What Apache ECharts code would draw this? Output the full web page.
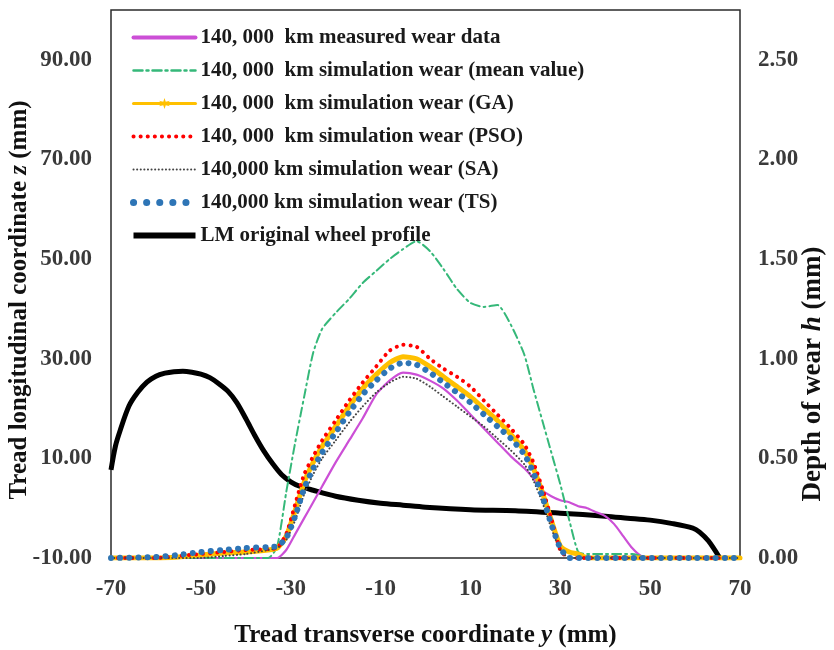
<!DOCTYPE html>
<html>
<head>
<meta charset="utf-8">
<script src="https://cdn.jsdelivr.net/npm/echarts@6/dist/echarts.min.js"></script>
<style>
html,body{margin:0;padding:0;background:#fff;}
#main{width:834px;height:650px;}
</style>
</head>
<body>
<div id="main"></div>
<script>
// transverse coordinate y (mm) for the wear curves
const yWear = [-70,-60,-55,-50,-45,-40,-35,-33,-31,-29,-27,-25,-23,-20,-17,-14,-11,-8,-5,-2,
  1,4,7,10,13,16,19,22,24,26,28,30,32,34,36,38,40,42,44,46,48,50,60,70];
// wear depth h (mm), right axis
const measured = [0,0,0,0,0,0,0,0,0.04,0.12,0.20,0.28,0.36,0.48,0.59,0.70,0.82,0.89,0.93,0.92,
  0.89,0.85,0.79,0.72,0.65,0.58,0.51,0.45,0.40,0.34,0.31,0.29,0.28,0.26,0.25,0.23,0.21,0.17,0.11,0.05,0.01,0,0,0];
const meanSim = [0,0,0,0,0,0,0,0.06,0.33,0.58,0.81,1.03,1.15,1.23,1.30,1.38,1.44,1.50,1.55,1.59,
  1.54,1.45,1.35,1.28,1.26,1.27,1.17,1.02,0.85,0.69,0.53,0.37,0.19,0.03,0.02,0.02,0.02,0.02,0.02,0.02,0.01,0,0,0];
const gaSim = [0,0,0.005,0.015,0.025,0.03,0.04,0.05,0.11,0.24,0.38,0.48,0.56,0.66,0.76,0.85,0.92,0.98,1.01,1.00,
  0.96,0.91,0.86,0.81,0.75,0.69,0.62,0.54,0.45,0.33,0.19,0.06,0.03,0.02,0,0,0,0,0,0,0,0,0,0];
const psoSim = [0,0,0.01,0.02,0.03,0.04,0.045,0.05,0.12,0.27,0.42,0.51,0.59,0.69,0.79,0.88,0.96,1.04,1.07,1.06,
  1.00,0.95,0.91,0.86,0.79,0.72,0.65,0.57,0.48,0.35,0.20,0.04,0,0,0,0,0,0,0,0,0,0,0,0];
const saSim = [0,0,0,0,0.01,0.02,0.04,0.05,0.09,0.19,0.32,0.42,0.50,0.59,0.68,0.76,0.83,0.88,0.91,0.90,
  0.86,0.81,0.76,0.71,0.66,0.60,0.54,0.47,0.39,0.28,0.15,0.04,0,0,0,0,0,0,0,0,0,0,0,0];
const tsSim = [0,0.005,0.015,0.03,0.04,0.05,0.055,0.06,0.10,0.21,0.35,0.45,0.53,0.63,0.73,0.82,0.89,0.95,0.98,0.97,
  0.93,0.88,0.83,0.78,0.72,0.66,0.60,0.52,0.43,0.31,0.17,0.05,0,0,0,0,0,0,0,0,0,0,0,0];

// LM original wheel profile, z (mm) on left axis
const yProfile = [-70,-69,-68,-66,-64,-62,-60,-58,-56,-54,-52,-50,-48,-46,-44,-42,-40,-38,-36,-34,-32,-30,-28,
  -25,-20,-15,-10,-5,0,10,20,30,40,45,50,55,59.5,61,63,65.5];
const zProfile = [7.7,12.5,15.5,20.5,23.3,25.3,26.5,27.1,27.4,27.5,27.3,26.9,26.2,25.0,23.5,21.2,18.0,14.6,11.5,8.9,6.7,5.3,4.4,
  3.6,2.4,1.6,1.0,0.6,0.2,-0.3,-0.5,-1.0,-1.6,-2.0,-2.4,-3.1,-4.0,-4.8,-6.6,-10];

const xTicks = [-70,-50,-30,-10,10,30,50,70];
const zTicks = [-10,10,30,50,70,90];
const hTicks = [0,0.5,1,1.5,2,2.5];

const legendNames = [
  '140, 000  km measured wear data',
  '140, 000  km simulation wear (mean value)',
  '140, 000  km simulation wear (GA)',
  '140, 000  km simulation wear (PSO)',
  '140,000 km simulation wear (SA)',
  '140,000 km simulation wear (TS)',
  'LM original wheel profile'
];

const FONT = "'Liberation Serif','Times New Roman',serif";

function pairs(xs, ys){ return xs.map((x,i)=>[x, ys[i]]); }

const chart = echarts.init(document.getElementById('main'));

const labelStyle = {fontFamily:FONT, fontWeight:'bold', fontSize:23, color:'#3a3a3a'};
function nameStyle(size, pad){
  return {fontFamily:FONT, fontWeight:'bold', fontSize:size, color:'#111', padding:pad,
    rich:{i:{fontFamily:FONT, fontWeight:'bold', fontStyle:'italic', fontSize:size, color:'#111'}}};
}

function wearLine(name, data, color, width, type, extra){
  return Object.assign({
    name:name, type:'line', yAxisIndex:1, z:3,
    data:pairs(yWear, data), showSymbol:false, symbol:'none', smooth:0.2,
    lineStyle:{color:color, width:width, type:type, cap:'round'},
    itemStyle:{color:color}
  }, extra || {});
}

const option = {
  animation:false,
  backgroundColor:'#fff',
  grid:{left:111, right:94, top:10, bottom:92, outerBoundsMode:'none',
    show:true, borderColor:'#2a2a2a', borderWidth:1.5},
  legend:{
    orient:'vertical', left:130, top:27, padding:0,
    itemWidth:62, itemHeight:14, itemGap:12,
    selectedMode:false,
    textStyle:{fontFamily:FONT, fontWeight:'bold', fontSize:21, lineHeight:21, color:'#1a1a1a'},
    itemStyle:{opacity:0},
    data:[
      {name:legendNames[0], lineStyle:{width:4}},
      {name:legendNames[1], lineStyle:{width:2.5}},
      {name:legendNames[2], lineStyle:{width:3}, itemStyle:{opacity:1}},
      {name:legendNames[3], lineStyle:{width:4}},
      {name:legendNames[4], lineStyle:{width:2}},
      {name:legendNames[5], lineStyle:{width:7, type:[0.1,13]}},
      {name:legendNames[6], lineStyle:{width:6}}
    ]
  },
  xAxis:{
    type:'value', min:-70, max:70,
    name:'Tread transverse coordinate {i|y} (mm)', nameLocation:'middle', nameGap:65,
    nameTextStyle:nameStyle(25, 0),
    axisLine:{show:false}, axisTick:{show:false}, splitLine:{show:false},
    axisLabel:Object.assign({margin:20, customValues:xTicks, formatter:v=>String(v)}, labelStyle)
  },
  yAxis:[
    {
      type:'value', position:'left', min:-10, max:100,
      name:'Tread longitudinal coordinate {i|z} (mm)', nameLocation:'middle',
      nameGap:79, nameRotate:90, nameMoveOverlap:false,
      nameTextStyle:nameStyle(25, [0,32,0,0]),
      axisLine:{show:false}, axisTick:{show:false}, splitLine:{show:false},
      axisLabel:Object.assign({margin:19, customValues:zTicks, formatter:v=>v.toFixed(2)}, labelStyle)
    },
    {
      type:'value', position:'right', min:0, max:2.75,
      name:'Depth of wear {i|h} (mm)', nameLocation:'middle',
      nameGap:60, nameRotate:90, nameMoveOverlap:false,
      nameTextStyle:nameStyle(27, [0,180,0,0]),
      axisLine:{show:false}, axisTick:{show:false}, splitLine:{show:false},
      axisLabel:Object.assign({margin:18, customValues:hTicks, formatter:v=>v.toFixed(2)}, labelStyle)
    }
  ],
  series:[
    {
      name:legendNames[6], type:'line', yAxisIndex:0, z:2,
      data:pairs(yProfile, zProfile), showSymbol:false, symbol:'none', smooth:0.3,
      lineStyle:{color:'#000', width:5}, itemStyle:{color:'#000'}
    },
    wearLine(legendNames[0], measured, '#CC4FD6', 2.2, 'solid'),
    wearLine(legendNames[1], meanSim, '#35B879', 2, [9,4,2,4]),
    wearLine(legendNames[2], gaSim, '#FFC000', 5, 'solid',
      {symbol:'path://M50,0L60,35L95,25L68,50L95,75L60,65L50,100L40,65L5,75L32,50L5,25L40,35Z'}),
    wearLine(legendNames[3], psoSim, '#FF0000', 4, [0.1,7]),
    wearLine(legendNames[4], saSim, '#444444', 2, [0.1,3.5]),
    wearLine(legendNames[5], tsSim, '#2E75B6', 6, [0.1,9])
  ]
};

chart.setOption(option);
</script>
</body>
</html>
